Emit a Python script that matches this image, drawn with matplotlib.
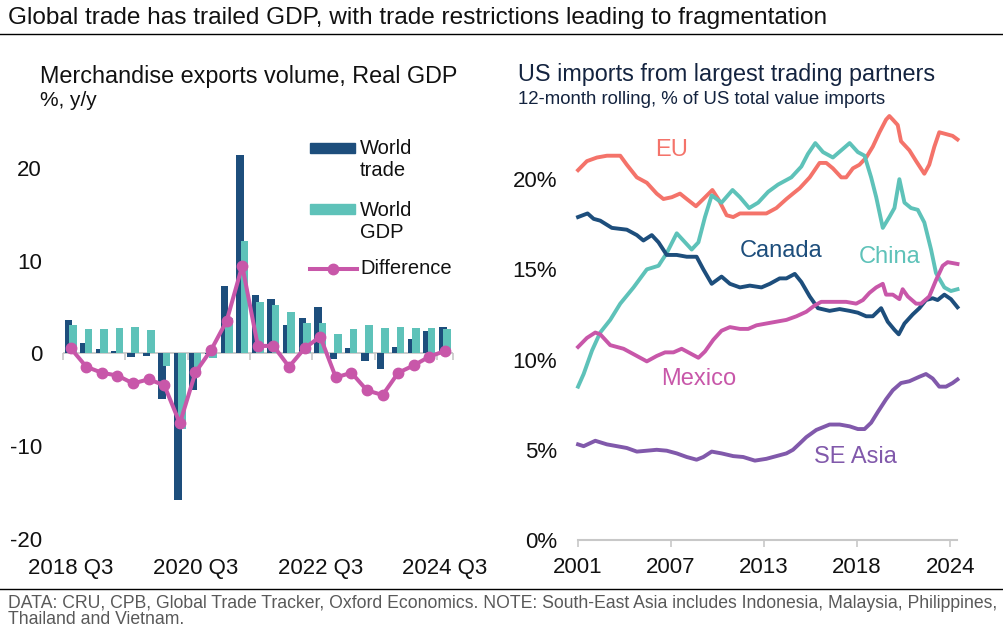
import numpy as np
import matplotlib.pyplot as plt
from matplotlib.patches import Rectangle
from matplotlib.lines import Line2D

plt.rcParams['font.family'] = ['Liberation Sans', 'DejaVu Sans']

W, H = 1004, 641


def fx(px):
    """ pixel -> figure fraction (x) """
    return px / W


def fy(py):
    """ pixel from top -> figure fraction (y) """
    return 1 - py / H


# Кольори
DARK_BLUE = '#1d4e7c'
TEAL = '#5ec2b9'
MAGENTA = '#c857a9'
SALMON = '#f4736a'
PURPLE = '#8159ab'
TEXT = '#111111'
NAVY = '#13233f'
GREY = '#c8c8c8'

# Ліва панель: квартали
quarters = ['2018 Q3', '2018 Q4', '2019 Q1', '2019 Q2', '2019 Q3', '2019 Q4',
            '2020 Q1', '2020 Q2', '2020 Q3', '2020 Q4', '2021 Q1', '2021 Q2',
            '2021 Q3', '2021 Q4', '2022 Q1', '2022 Q2', '2022 Q3', '2022 Q4',
            '2023 Q1', '2023 Q2', '2023 Q3', '2023 Q4', '2024 Q1', '2024 Q2',
            '2024 Q3']
world_trade = [3.6, 1.1, 0.5, 0.25, -0.45, -0.25, -4.9, -15.8, -4.0, -0.1, 7.3, 21.4,
               6.3, 5.9, 3.1, 3.8, 5.0, -0.6, 0.6, -0.8, -1.65, 0.7, 1.5, 2.45, 2.85]
world_gdp = [3.05, 2.6, 2.6, 2.7, 2.8, 2.5, -1.4, -8.2, -1.8, -0.5, 3.8, 12.1,
             5.5, 5.2, 4.45, 3.3, 3.3, 2.1, 2.6, 3.05, 2.7, 2.8, 2.7, 2.7, 2.6]
difference = [0.55, -1.45, -2.1, -2.4, -3.25, -2.8, -3.45, -7.55, -2.05, 0.35, 3.5, 9.45,
              0.8, 0.8, -1.45, 0.55, 1.8, -2.6, -2.1, -4.0, -4.5, -2.1, -1.3, -0.35, 0.25]
left_yticks = [-20, -10, 0, 10, 20]

# Права панель: частка імпорту США, %
eu_years = [2001.92, 2002.46, 2003.07, 2003.68, 2004.49, 2004.89, 2005.50, 2006.11, 2006.71,
            2007.12, 2007.63, 2008.13, 2008.54, 2009.10, 2009.55, 2010.10, 2010.46, 2010.97,
            2011.37, 2011.78, 2012.58, 2013.39, 2014.00, 2014.61, 2015.01, 2015.42, 2016.03,
            2016.63, 2017.04, 2017.44, 2017.95, 2018.25, 2018.66, 2019.06, 2019.47, 2019.87,
            2020.28, 2020.68, 2020.88, 2021.09, 2021.39, 2021.59, 2022.10, 2022.51, 2023.01,
            2023.31, 2023.62, 2023.92, 2024.33, 2024.73, 2025.03]
eu_share = [20.5, 21.0, 21.2, 21.3, 21.3, 20.8, 20.1, 19.8, 19.2,
            18.9, 19.0, 19.2, 18.9, 18.5, 18.9, 19.4, 18.9, 18.0,
            17.9, 18.1, 18.1, 18.1, 18.4, 18.9, 19.2, 19.5, 20.1,
            20.9, 20.9, 20.6, 20.1, 20.1, 20.6, 20.8, 21.2, 21.8,
            22.6, 23.3, 23.5, 23.3, 23.0, 22.1, 21.6, 21.0, 20.3,
            20.8, 21.8, 22.6, 22.5, 22.4, 22.2]

china_years = [2001.92, 2002.26, 2002.77, 2003.27, 2003.88, 2004.49, 2005.30, 2006.11, 2006.82,
               2007.32, 2007.93, 2008.84, 2009.25, 2009.65, 2010.06, 2010.66, 2011.33, 2011.78,
               2012.34, 2012.89, 2013.50, 2014.10, 2014.91, 2015.52, 2015.92, 2016.37, 2016.84,
               2017.44, 2017.95, 2018.46, 2018.96, 2019.37, 2019.77, 2020.08, 2020.48, 2020.88,
               2021.19, 2021.49, 2021.80, 2022.20, 2022.61, 2023.01, 2023.42, 2023.72, 2024.23,
               2024.63, 2025.03]
china_share = [8.5, 9.2, 10.5, 11.5, 12.2, 13.1, 14.0, 15.0, 15.2,
               15.9, 17.0, 16.1, 16.5, 17.9, 19.1, 18.7, 19.4, 19.0,
               18.4, 18.7, 19.3, 19.7, 20.1, 20.7, 21.4, 22.0, 21.5,
               21.2, 21.6, 22.0, 21.5, 21.3, 20.1, 19.0, 17.3, 17.9,
               18.4, 20.0, 18.7, 18.4, 18.3, 17.6, 16.1, 14.8, 14.0,
               13.8, 13.9]

canada_years = [2001.92, 2002.50, 2002.87, 2003.27, 2003.98, 2004.89, 2005.50, 2005.90, 2006.41,
                2006.82, 2007.32, 2007.93, 2008.54, 2009.14, 2009.55, 2010.06, 2010.66, 2011.17,
                2011.78, 2012.38, 2013.09, 2013.60, 2014.20, 2014.61, 2015.12, 2015.52, 2016.03,
                2016.53, 2017.24, 2017.85, 2018.46, 2018.96, 2019.47, 2019.87, 2020.38, 2020.78,
                2021.19, 2021.45, 2021.80, 2022.30, 2022.71, 2023.11, 2023.52, 2023.82, 2024.23,
                2024.63, 2025.03]
canada_share = [17.9, 18.1, 17.8, 17.7, 17.3, 17.2, 16.9, 16.6, 16.9,
                16.5, 15.8, 15.8, 15.7, 15.7, 15.0, 14.2, 14.6, 14.2,
                14.0, 14.1, 14.0, 14.2, 14.5, 14.5, 14.75, 14.3, 13.5,
                12.85, 12.7, 12.8, 12.7, 12.6, 12.4, 12.4, 12.85, 12.1,
                11.65, 11.4, 12.0, 12.5, 12.85, 13.3, 13.4, 13.3, 13.6,
                13.35, 12.9]

mexico_years = [2001.92, 2002.46, 2002.97, 2003.27, 2003.88, 2004.69, 2005.30, 2006.11, 2006.71,
                2007.22, 2007.73, 2008.23, 2008.74, 2009.25, 2009.65, 2010.16, 2010.66, 2011.17,
                2011.78, 2012.28, 2012.79, 2013.39, 2014.00, 2014.61, 2015.22, 2015.82, 2016.33,
                2016.73, 2017.44, 2018.25, 2018.86, 2019.27, 2019.67, 2020.08, 2020.48, 2020.68,
                2021.09, 2021.49, 2021.69, 2022.00, 2022.51, 2022.81, 2023.31, 2023.72, 2024.13,
                2024.43, 2025.03]
mexico_share = [10.7, 11.2, 11.5, 11.4, 10.8, 10.6, 10.3, 9.9, 10.2,
                10.4, 10.4, 10.6, 10.35, 10.1, 10.45, 11.1, 11.6, 11.8,
                11.7, 11.7, 11.9, 12.0, 12.1, 12.2, 12.4, 12.65, 13.0,
                13.2, 13.2, 13.2, 13.1, 13.3, 13.7, 14.0, 14.2, 13.6,
                13.6, 13.35, 13.9, 13.5, 13.1, 13.1, 13.5, 14.4, 15.2,
                15.4, 15.3]

se_asia_years = [2001.92, 2002.26, 2002.97, 2003.68, 2004.29, 2004.89, 2005.50, 2006.11, 2006.71,
                 2007.32, 2007.93, 2008.54, 2009.14, 2009.55, 2010.06, 2010.66, 2011.37, 2011.98,
                 2012.69, 2013.39, 2014.00, 2014.61, 2015.01, 2015.42, 2015.82, 2016.43, 2017.24,
                 2017.85, 2018.46, 2018.96, 2019.37, 2019.77, 2020.18, 2020.68, 2021.09, 2021.59,
                 2022.10, 2022.71, 2023.11, 2023.52, 2023.92, 2024.33, 2024.73, 2025.03]
se_asia_share = [5.3, 5.2, 5.5, 5.3, 5.2, 5.1, 4.9, 4.95, 5.0,
                 4.95, 4.8, 4.6, 4.45, 4.6, 4.9, 4.8, 4.65, 4.6,
                 4.4, 4.5, 4.65, 4.8, 5.0, 5.35, 5.7, 6.1, 6.4,
                 6.4, 6.3, 6.15, 6.15, 6.5, 7.1, 7.8, 8.3, 8.7,
                 8.8, 9.05, 9.2, 8.95, 8.5, 8.5, 8.7, 8.9]

year_labels = ['2001', '2007', '2013', '2018', '2024']
right_yticks = [0, 5, 10, 15, 20]

fig = plt.figure(figsize=(W / 100, H / 100), dpi=100)

# ---------- Заголовок і лінії ----------
fig.text(fx(8), fy(18), 'Global trade has trailed GDP, with trade restrictions leading to fragmentation',
         fontsize=17.6, color=TEXT, va='center', ha='left')
fig.add_artist(Line2D([0, 1], [fy(33.5), fy(33.5)], color='black', lw=1))
fig.add_artist(Line2D([0, 1], [fy(589), fy(589)], color='black', lw=1))
fig.text(fx(8), fy(611.5), 'DATA: CRU, CPB, Global Trade Tracker, Oxford Economics. NOTE: South-East Asia '
         'includes Indonesia, Malaysia, Philippines,\nThailand and Vietnam.',
         fontsize=12.7, color='#595959', va='center', ha='left', linespacing=0.98)

# ---------- Ліва панель ----------
fig.text(fx(40), fy(77), 'Merchandise exports volume, Real GDP', fontsize=16.8, color=TEXT, va='center')
fig.text(fx(40), fy(101), '%, y/y', fontsize=15, color=TEXT, va='center')

ax1 = fig.add_axes([fx(62.9), fy(538.7), (452.8 - 62.9) / W, (538.7 - 121.6) / H])
x = np.arange(len(quarters))
ax1.bar(x - 0.14, world_trade, width=0.49, color=DARK_BLUE, zorder=2)
ax1.bar(x + 0.14, world_gdp, width=0.49, color=TEAL, zorder=3)
ax1.plot(x, difference, color=MAGENTA, lw=2.9, marker='o', ms=7.5, zorder=5)
ax1.axhline(0, color=GREY, lw=1.3, zorder=1)
boundaries = np.append(np.arange(-0.5, len(quarters), 4), len(quarters) - 0.5)
ax1.plot(boundaries, np.zeros(len(boundaries)), ls='none', marker=3, ms=5, mew=1.2,
         color=GREY, zorder=1, clip_on=False)
ax1.set_xlim(-0.5, len(quarters) - 0.5)
ax1.set_ylim(-20, 25)
ax1.set_yticks(left_yticks)
ax1.set_yticklabels([str(v) for v in left_yticks])
ax1.set_xticks(x[::8])
ax1.set_xticklabels(quarters[::8])
ax1.tick_params(axis='both', length=0, labelsize=16, colors=TEXT)
ax1.tick_params(axis='y', pad=15)
ax1.tick_params(axis='x', pad=14)
for s in ax1.spines.values():
    s.set_visible(False)

# Легенда (вручну, як у Excel)
fig.add_artist(Rectangle((fx(310), fy(153)), 45 / W, 10 / H, color=DARK_BLUE, transform=fig.transFigure))
fig.text(fx(360), fy(160), 'World\ntrade', fontsize=14.5, color=TEXT, va='center', linespacing=1.2)
fig.add_artist(Rectangle((fx(310), fy(214)), 45 / W, 10 / H, color=TEAL, transform=fig.transFigure))
fig.text(fx(360), fy(221), 'World\nGDP', fontsize=14.5, color=TEXT, va='center', linespacing=1.2)
fig.add_artist(Line2D([fx(310), fx(357)], [fy(269), fy(269)], color=MAGENTA, lw=2.9))
fig.add_artist(Line2D([fx(333)], [fy(269)], color=MAGENTA, marker='o', ms=7.5))
fig.text(fx(360), fy(269), 'Difference', fontsize=14.5, color=TEXT, va='center')

# ---------- Права панель ----------
fig.text(fx(518), fy(75), 'US imports from largest trading partners', fontsize=16.8, color=NAVY, va='center')
fig.text(fx(518), fy(100), '12-month rolling, % of US total value imports', fontsize=13.4, color=NAVY,
         va='center')

ax2 = fig.add_axes([fx(578), fy(540), (957 - 578) / W, (540 - 107) / H])
series = [
    ('EU', eu_years, eu_share, SALMON, (2007.63, 21.6)),
    ('China', china_years, china_share, TEAL, (2020.92, 15.7)),
    ('Canada', canada_years, canada_share, DARK_BLUE, (2014.31, 16.0)),
    ('Mexico', mexico_years, mexico_share, MAGENTA, (2009.29, 8.9)),
    ('SE Asia', se_asia_years, se_asia_share, PURPLE, (2018.82, 4.6)),
]
for name, yrs, vals, col, pos in series:
    ax2.plot(yrs, vals, color=col, lw=2.8, clip_on=False, solid_joinstyle='round')
    ax2.text(pos[0], pos[1], name, color=col, fontsize=17, ha='center', va='center')

start = 2001 + 11 / 12
tick_years = start + np.arange(len(year_labels)) * 68 / 12
ax2.set_xlim(start, 2025.0)
ax2.set_ylim(0, 24)
ax2.set_xticks(tick_years)
ax2.set_xticklabels(year_labels)
ax2.set_yticks(right_yticks)
ax2.set_yticklabels([f'{v}%' for v in right_yticks])
for side in ['top', 'right', 'left']:
    ax2.spines[side].set_visible(False)
ax2.spines['bottom'].set_color(GREY)
ax2.spines['bottom'].set_linewidth(1.5)
ax2.tick_params(axis='x', length=5, width=1.2, color=GREY, pad=7, labelsize=16, labelcolor=TEXT)
ax2.tick_params(axis='y', length=0, pad=15, labelsize=16, labelcolor=TEXT)

fig.savefig('out.png', dpi=100)
